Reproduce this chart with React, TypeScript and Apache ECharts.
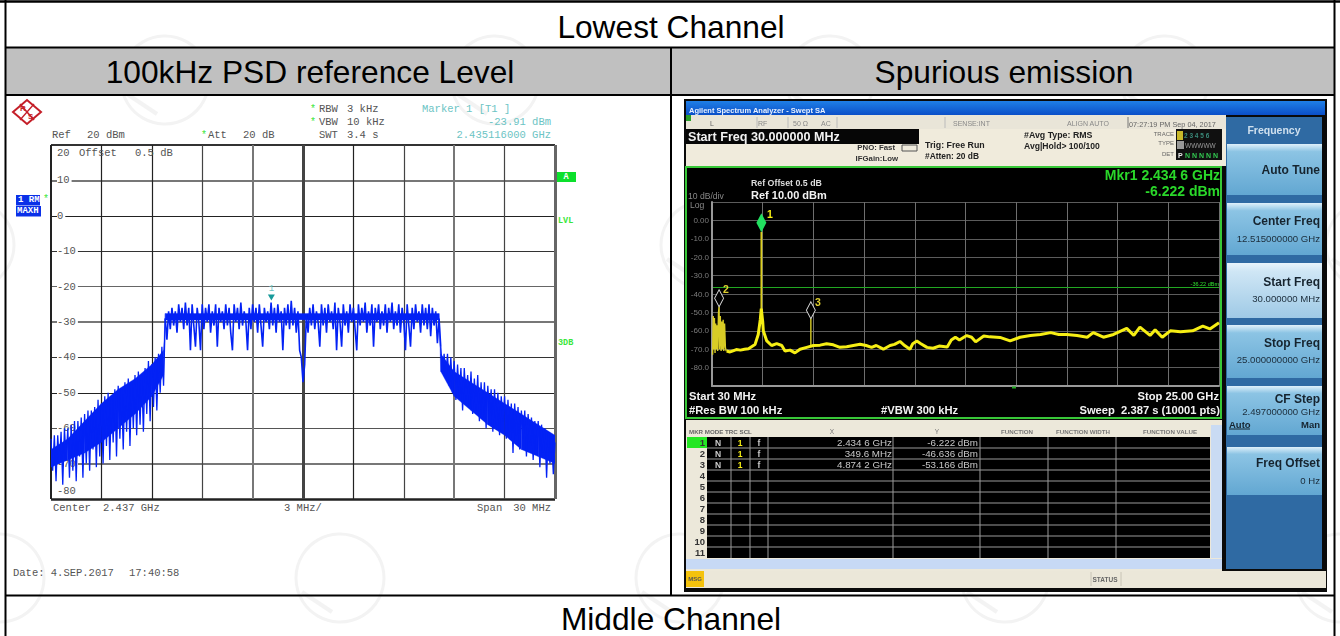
import React, { useEffect, useRef } from "react";
import * as echarts from "echarts";

// ---------- Left plot (R&S analyser) ----------
const psdCenterOffsetStart = -15;
const psdStepMHz = 0.1;
const psdLeftSkirt = [
  -63,-72,-62,-75,-62,-70,-61,-76,-60,-69,-60,-74,-59,-72,-58,-75,-58,-68,-57,-74,-56,-70,-55,-72,-55,-66,-54,-71,-52,-68,-53,-70,
  -51,-65,-50,-69,-51,-64,-49,-68,-48,-63,-49,-66,-47,-61,-46,-65,-47,-60,-45,-62,-44,-59,-45,-61,-43,-56,-41,-58,-42,-54,-40,-55,-39,-50,-37,-48,
];
const psdPlateauLeft = [
  -29,-35,-27,-32,-26,-31,-27,-33,-25,-30,-26,-32,-24.5,-31,-26,-38,-25,-31,-37,-26,-30,-38,-25,-32,-26,-30,-25,-33,-27,-31,-25,-37,
  -26,-30,-27,-32,-25,-31,-26,-33,-38,-25,-30,-26,-32,-24.5,-31,-27,-30,-38,-26,-32,-25,-30,-26,-33,-25,-31,-37,-26,-30,-27,-32,-24.5,
  -31,-26,-33,-25,-30,-27,-38,-26,-31,-25,-32,-24,-31,-26,-33,-27,-38,-40,
];
const psdNotch = [-47, -42];
const psdPlateauRight = [
  -28,-33,-26,-31,-25,-32,-27,-30,-37,-25,-31,-26,-33,-25,-30,-27,-32,-24.5,-38,-26,-30,-37,-25,-31,-27,-33,-25,-30,-26,-32,-38,-25,
  -31,-26,-30,-24.5,-33,-27,-31,-25,-37,-26,-30,-25,-32,-27,-31,-25,-33,-26,-30,-24.5,-32,-27,-31,-25,-33,-26,-30,-38,-25,-31,-37,-26,
  -32,-25,-30,-27,-33,-25,-31,-26,-32,-25,-34,-26,-31,-27,-36,-29,
];
const psdRightSkirt = [
  -37,-44,-39,-46,-39,-48,-40,-50,-41,-52,-42,-51,-43,-55,-43,-52,-45,-54,-44,-56,-46,-55,-45,-58,-47,-57,-47,-60,-48,-56,-49,-61,
  -49,-59,-50,-62,-51,-58,-51,-63,-52,-61,-53,-67,-53,-62,-54,-66,-55,-63,-55,-68,-56,-64,-57,-69,-58,-66,-58,-71,-59,-67,-60,-74,-61,-70,-63,-73,-64,
];
// solid core of the trace band, read at whole-MHz stations: offset, upper dB, lower dB
const coreOffset = [-15,-14,-13,-12,-11,-10,-9,-8.3,-8.2,-0.3,0.3,8.1,8.2,9,10,11,12,13,14,15];
const coreUpper = [-66,-63,-58,-53,-49,-46,-42,-38,-27.6,-27.6,-27.6,-27.6,-39,-44,-47,-50,-53,-56,-59,-62];
const coreLower = [-71,-69,-67,-64,-60,-56,-51,-45,-29.4,-29.4,-29.4,-29.4,-44,-51,-55,-59,-62,-66,-68,-70];
const psdYLabels: Record<string, string> = {
  "10": "10", "0": "0", "-10": "-10", "-20": "-20", "-30": "-30", "-40": "-40", "-50": "-50", "-60": "-60", "-70": "-70",
};
const psdHLines: [number, string, number][] = [
  [20, "#333", 2], [10, "#777", 2], [0, "#222", 1.2], [-10, "#333", 1], [-20, "#666", 1], [-30, "#777", 2],
  [-40, "#333", 1.2], [-50, "#222", 1.2], [-60, "#555", 1], [-70, "#777", 2], [-80, "#222", 2.5],
];
const psdVLines: [number, string, number][] = [
  [-15, "#222", 2], [-12, "#222", 1.2], [-9, "#222", 1.2], [-6, "#444", 1.2], [-3, "#777", 2], [0, "#444", 3],
  [3, "#222", 1.2], [6, "#444", 1.2], [9, "#777", 2], [12, "#444", 1.2], [15, "#666", 3],
];

// ---------- Right plot (Agilent analyser) ----------
const floorFreq = [
  0.72,0.89,1.0,1.2,1.4,1.6,1.8,2.12,2.28,2.38,2.43,2.5,2.53,2.7,2.94,3.19,3.44,3.6,3.85,4.09,4.34,4.67,5.0,5.33,5.65,5.98,6.31,6.64,6.97,7.3,7.6,7.87,8.1,8.45,8.78,9.0,9.27,9.5,9.76,9.9,10.1,10.3,10.6,10.9,11.2,11.6,11.8,12.0,12.2,12.56,12.8,13.0,13.4,13.7,14.2,14.7,15.19,15.7,16.2,16.7,17.1,17.5,18.0,18.5,18.8,19.3,19.8,20.45,20.8,21.1,21.6,21.85,22.2,22.6,23.1,23.7,24.2,24.55,25,
];
const floorDb = [
  -71,-71.5,-71,-70.2,-70.5,-70,-69.7,-67.5,-62,-54,-48,-55,-60,-65.5,-68,-67,-68,-71,-70.5,-72,-70,-69,-68,-67.8,-67,-67.6,-69,-68.7,-68,-67.3,-68,-69,-68,-70,-68,-67.4,-65.8,-68,-70,-67,-65.6,-67,-69,-69.5,-68.3,-68.8,-65,-63.5,-65,-62.6,-63.5,-66,-62.8,-63.3,-63.6,-65.5,-63.5,-62.5,-62,-61,-62,-62,-62.5,-63.5,-61,-63.5,-62,-58.7,-62.5,-58,-62.5,-59.5,-63.5,-60,-60.5,-60,-57.5,-59,-55.6,
];
const burstFreq = [0.03,0.06,0.09,0.12,0.15,0.18,0.21,0.25,0.28,0.32,0.35,0.37,0.41,0.45,0.48,0.52,0.55,0.58,0.62,0.66,0.7];
const burstDb = [-73,-52,-70,-53,-72,-56,-70,-57,-71,-50,-46.636,-70,-52,-71,-55,-70,-54,-71,-56,-69,-71];
const peakFreq = [2.4346, 2.4346];
const peakDb = [-50, -6.222];
const spur3Freq = [4.8742, 4.8742];
const spur3Db = [-68, -53.166];
const displayLine = -36.22;
const rightYLabels: Record<string, string> = {
  "0": "0.00", "-10": "-10.0", "-20": "-20.0", "-30": "-30.0", "-40": "-40.0", "-50": "-50.0", "-60": "-60.0", "-70": "-70.0", "-80": "-80.0",
};
const markerTable: [string, string, string][] = [
  ["1", "2.434 6 GHz", "-6.222 dBm"],
  ["2", "349.6 MHz", "-46.636 dBm"],
  ["3", "4.874 2 GHz", "-53.166 dBm"],
  ["4", "", ""], ["5", "", ""], ["6", "", ""], ["7", "", ""], ["8", "", ""], ["9", "", ""], ["10", "", ""], ["11", "", ""],
];
const softkeys: [string, string][] = [
  ["Auto Tune", ""],
  ["Center Freq", "12.515000000 GHz"],
  ["Start Freq", "30.000000 MHz"],
  ["Stop Freq", "25.000000000 GHz"],
  ["CF Step", "2.497000000 GHz"],
  ["Freq Offset", "0 Hz"],
];

const SANS = '"Liberation Sans"';
const MONO = '"Liberation Mono"';

function txt(text: string, x: number, y: number, size: number, fill: string, opt: any = {}) {
  const weight = opt.bold ? "bold " : "";
  return {
    type: "text", x, y, z: opt.z ?? 6, silent: true,
    style: {
      text, fill, font: `${weight}${size}px ${opt.family ?? SANS}`,
      align: opt.align ?? "left", verticalAlign: "middle",
      ...(opt.bg ? { backgroundColor: opt.bg } : {}),
    },
  };
}
function rect(x: number, y: number, w: number, h: number, fill: any, z = 0, extra: any = {}) {
  return { type: "rect", z, silent: true, shape: { x, y, width: w, height: h }, style: { fill, ...extra } };
}
function seg(x1: number, y1: number, x2: number, y2: number, stroke: string, lineWidth: number, z = 1) {
  return { type: "line", z, silent: true, shape: { x1, y1, x2, y2 }, style: { stroke, lineWidth } };
}
function grad(a: string, b: string, c?: string) {
  const stops = c
    ? [{ offset: 0, color: a }, { offset: 0.15, color: b }, { offset: 1, color: c }]
    : [{ offset: 0, color: a }, { offset: 1, color: b }];
  return new echarts.graphic.LinearGradient(0, 0, 0, 1, stops);
}

function watermark(cx: number, cy: number) {
  const c = "#f3f3f3";
  return [
    { type: "circle", z: 0, silent: true, shape: { cx, cy, r: 44 }, style: { fill: "none", stroke: c, lineWidth: 3 } },
    seg(cx - 38, cy + 14, cx - 8, cy + 34, c, 4, 0),
  ];
}

function leftOption() {
  const values = [...psdLeftSkirt, ...psdPlateauLeft, ...psdNotch, ...psdPlateauRight, ...psdRightSkirt];
  const trace = values.map((v, i) => [psdCenterOffsetStart + i * psdStepMHz, v]);
  const nL = psdLeftSkirt.length;
  const nM = psdPlateauLeft.length + psdNotch.length + psdPlateauRight.length;
  const traceLeft = trace.slice(0, nL + 1);
  const tracePlateau = trace.slice(nL, nL + nM + 1);
  const traceRight = trace.slice(nL + nM);
  const coreData = coreOffset.slice(0, -1).map((x, i) => [x, coreUpper[i], coreLower[i], coreOffset[i + 1], coreUpper[i + 1], coreLower[i + 1]]);
  const gray = "#555";
  const cyan = "#6cc4c4";
  const green = "#3ae63a";
  const wmPts = [
    [165, 80], [495, 80], [830, 80], [1165, 80],
    [-30, 245], [705, 245], [1370, 245],
    [0, 578], [340, 578], [680, 578], [1005, 578], [1340, 578],
  ];
  const graphic: any[] = [
    ...wmPts.flatMap(([a, b]) => watermark(a, b)),
    rect(6, 48, 1328, 47, "#c0c0c0", 0),
    seg(0, 1.5, 1340, 1.5, "#000", 2.4, 1),
    seg(5.5, 0, 5.5, 636, "#000", 2, 1),
    seg(1334.5, 0, 1334.5, 636, "#000", 2, 1),
    seg(5, 47.5, 1335, 47.5, "#000", 2.2, 1),
    seg(5, 95, 1335, 95, "#000", 2.2, 1),
    seg(5, 595.5, 1335, 595.5, "#000", 2.2, 1),
    seg(671, 48, 671, 595, "#000", 2, 1),
    txt("Lowest Channel", 671, 27, 31.7, "#000", { align: "center" }),
    txt("100kHz PSD reference Level", 310, 72, 31.7, "#000", { align: "center" }),
    txt("Spurious emission", 1004, 72, 31.7, "#000", { align: "center" }),
    txt("Middle Channel", 671, 619, 31.7, "#000", { align: "center" }),
    // R&S logo
    { type: "polygon", z: 2, silent: true, shape: { points: [[13, 112], [27, 100], [41, 112], [27, 124]] }, style: { fill: "#fff", stroke: "#c41e28", lineWidth: 2 } },
    seg(20, 104, 34, 120, "#c41e28", 1.6, 3),
    seg(34, 104, 20, 120, "#c41e28", 1.4, 3),
    txt("R", 20, 108, 8, "#c41e28", { bold: true }),
    txt("S", 28, 116, 8, "#c41e28", { bold: true }),
    // header lines
    txt("Ref", 52, 135, 10.5, gray, { family: MONO }),
    txt("20 dBm", 87, 135, 10.5, gray, { family: MONO }),
    txt("*", 201, 135, 10, green, { family: MONO }),
    txt("Att", 208, 135, 10.5, gray, { family: MONO }),
    txt("20 dB", 243, 135, 10.5, gray, { family: MONO }),
    txt("*", 310, 109, 10, green, { family: MONO }),
    txt("RBW", 319, 109, 10.5, gray, { family: MONO }),
    txt("3 kHz", 347, 109, 10.5, gray, { family: MONO }),
    txt("*", 310, 122, 10, green, { family: MONO }),
    txt("VBW", 319, 122, 10.5, gray, { family: MONO }),
    txt("10 kHz", 347, 122, 10.5, gray, { family: MONO }),
    txt("SWT", 319, 135, 10.5, gray, { family: MONO }),
    txt("3.4 s", 347, 135, 10.5, gray, { family: MONO }),
    txt("Marker 1 [T1 ]", 422, 109, 10.5, cyan, { family: MONO }),
    txt("-23.91 dBm", 551, 122, 10.5, cyan, { family: MONO, align: "right" }),
    txt("2.435116000 GHz", 551, 135, 10.5, cyan, { family: MONO, align: "right" }),
    txt("20", 57, 153, 10.5, gray, { family: MONO }),
    txt("Offset", 79, 153, 10.5, gray, { family: MONO }),
    txt("0.5 dB", 135, 153, 10.5, gray, { family: MONO }),
    txt("-80", 57, 490.5, 10.5, gray, { family: MONO }),
    txt("Center", 53, 508, 10.5, gray, { family: MONO }),
    txt("2.437 GHz", 103, 508, 10.5, gray, { family: MONO }),
    txt("3 MHz/", 284, 508, 10.5, gray, { family: MONO }),
    txt("Span", 477, 508, 10.5, gray, { family: MONO }),
    txt("30 MHz", 551, 508, 10.5, gray, { family: MONO, align: "right" }),
    txt("Date: 4.SEP.2017", 13, 573, 10.5, gray, { family: MONO }),
    txt("17:40:58", 129, 573, 10.5, gray, { family: MONO }),
    // side tags
    rect(16, 195, 24, 10.5, "#0a30e8", 2),
    txt("1 RM", 18, 200, 9, "#fff", { family: MONO, bold: true }),
    rect(16, 206, 25, 10.5, "#0a30e8", 2),
    txt("MAXH", 17, 211, 9, "#fff", { family: MONO, bold: true }),
    txt("*", 43, 199, 10, green, { family: MONO }),
    rect(557, 172, 19, 10, "#0ce02c", 2),
    txt("A", 566, 177, 8.5, "#fff", { family: MONO, bold: true, align: "center" }),
    txt("LVL", 558, 221, 8.5, green, { family: MONO, bold: true }),
    txt("3DB", 558, 343, 8.5, green, { family: MONO, bold: true }),
  ];
  const traceLine = (data: number[][], width: number, extra: any = {}) => ({
    type: "line", z: 3, silent: true, showSymbol: false, clip: true,
    lineStyle: { color: "#0322f5", width, join: "miter" }, data, ...extra,
  });
  return {
    animation: false,
    grid: { left: 51, top: 145, width: 504, height: 354, show: false },
    xAxis: {
      type: "value", min: -15, max: 15, interval: 3, z: 2,
      axisLine: { show: false }, axisTick: { show: false }, axisLabel: { show: false }, splitLine: { show: false },
    },
    yAxis: {
      type: "value", min: -80, max: 20, interval: 10, z: 2,
      axisLine: { show: false }, axisTick: { show: false }, splitLine: { show: false },
      axisLabel: {
        inside: true, margin: 6, color: gray, fontFamily: MONO, fontSize: 10.5, backgroundColor: "#fff", padding: [0, 2, 0, 0],
        formatter: (v: number) => psdYLabels[String(v)] ?? "",
      },
    },
    graphic: { elements: graphic },
    series: [
      {
        type: "line", z: 1, silent: true, showSymbol: false, lineStyle: { width: 0 },
        data: [[-15, -80], [15, -80]],
        markLine: {
          z: 1, silent: true, symbol: "none", label: { show: false }, animation: false,
          data: [
            ...psdHLines.map(([v, color, width]) => ({ yAxis: v, lineStyle: { color, width, type: "solid" } })),
            ...psdVLines.map(([v, color, width]) => ({ xAxis: v, lineStyle: { color, width, type: "solid" } })),
          ],
        },
      },
      {
        type: "custom", z: 3, silent: true, clip: true,
        data: coreData,
        encode: { x: [0, 3], y: [1, 2, 4, 5] },
        renderItem: (_p: any, api: any) => {
          const a = api.coord([api.value(0), api.value(1)]);
          const b = api.coord([api.value(3), api.value(4)]);
          const c = api.coord([api.value(3), api.value(5)]);
          const d = api.coord([api.value(0), api.value(2)]);
          return { type: "polygon", shape: { points: [a, b, c, d] }, style: { fill: "#0322f5", stroke: "#0322f5", lineWidth: 0.3 } };
        },
      },
      traceLine(traceLeft, 1.3),
      traceLine(traceRight, 1.3),
      traceLine(tracePlateau, 1.6, {
        markPoint: {
          silent: true, animation: false,
          data: [{
            coord: [-1.884, -23.91], symbol: "triangle", symbolRotate: 180, symbolSize: [7, 6], symbolOffset: [0, -3],
            itemStyle: { color: "#179a9a" },
            label: { show: true, formatter: "1", position: "top", distance: 1, color: cyan, fontFamily: MONO, fontSize: 9 },
          }],
        },
      }),
    ],
  };
}

function rightOption() {
  const y0 = 96, x0 = 680;
  const yellow = "#f6ee14";
  const green = "#2fe02f";
  const wh = "#f2f2f2";
  const els: any[] = [
    rect(684, 99, 643, 493, "#0a0a0a", 0),
    rect(686, 101, 639, 14, grad("#1f7fe6", "#0b4fc8"), 0),
    txt("Agilent Spectrum Analyzer - Swept SA", 689, 110, 7.5, "#e8f0ff", { bold: true }),
    rect(686, 115, 540, 14, "#e9e5d8", 0),
    rect(686, 115, 5, 6, "#2aa02a", 1),
    txt("L", 710, 123, 7, "#666"),
    txt("RF", 758, 123, 7, "#888"),
    txt("50 Ω", 793, 123, 7, "#888"),
    txt("AC", 821, 123, 7, "#888"),
    txt("SENSE:INT", 953, 123, 7, "#888"),
    txt("ALIGN AUTO", 1067, 123, 7, "#888"),
    txt("07:27:19 PM Sep 04, 2017", 1129, 124, 7.3, "#666"),
    seg(757, 117, 757, 128, "#bbb", 1),
    seg(788, 117, 788, 128, "#bbb", 1),
    seg(837, 117, 837, 128, "#bbb", 1),
    seg(945, 117, 945, 128, "#bbb", 1),
    seg(1128, 117, 1128, 128, "#777", 1),
    rect(686, 129, 540, 37, "#f0ebdc", 0),
    rect(686, 129, 233, 15, "#060606", 1),
    txt("Start Freq 30.000000 MHz", 688, 137, 12.6, wh, { bold: true }),
    txt("PNO: Fast", 895, 147, 7.8, "#333", { bold: true, align: "right" }),
    txt("IFGain:Low", 898, 158, 7.8, "#333", { bold: true, align: "right" }),
    txt("Trig: Free Run", 925, 145, 8.8, "#222", { bold: true }),
    txt("#Atten: 20 dB", 925, 156, 8.4, "#222", { bold: true }),
    rect(902, 145, 15, 6, "#f0ebdc", 1, { stroke: "#555", lineWidth: 1 }),
    txt("#Avg Type: RMS", 1024, 135, 8.8, "#222", { bold: true }),
    txt("Avg|Hold> 100/100", 1024, 145.5, 8.6, "#222", { bold: true }),
    txt("TRACE", 1174, 134, 6, "#666", { align: "right" }),
    txt("TYPE", 1174, 143, 6, "#666", { align: "right" }),
    txt("DET", 1174, 154, 6, "#666", { align: "right" }),
    rect(1176, 129, 46, 31, "#101010", 1),
    rect(1177, 131, 6, 9, "#c8b82a", 2),
    txt("2 3 4 5 6", 1184, 135, 6.5, "#3a8a7a", { bold: true }),
    rect(1177, 141, 7, 8, "#999", 2),
    txt("WWWWW", 1185, 145, 6.5, "#999"),
    txt("P", 1178, 155, 7, "#eee", { bold: true }),
    txt("N N N N N", 1185, 155, 7, "#32c850", { bold: true }),
    // screen frame
    rect(686, 167, 535, 251, "#000", 0, { stroke: "#38c838", lineWidth: 2 }),
    txt("Ref Offset 0.5 dB", 751, 183, 8.8, "#ddd", { bold: true }),
    txt("Ref 10.00 dBm", 751, 195, 11, wh, { bold: true }),
    txt("10 dB/div", 688, 196, 8.6, "#888"),
    txt("Log", 690, 205, 8.6, "#888"),
    txt("Mkr1 2.434 6 GHz", 1220, 175, 14, "#2ad82a", { bold: true, align: "right" }),
    txt("-6.222 dBm", 1220, 191, 14, "#2ad82a", { bold: true, align: "right" }),
    txt("Start 30 MHz", 689, 395.5, 11.2, wh, { bold: true }),
    txt("#Res BW 100 kHz", 689, 409.5, 11.2, wh, { bold: true }),
    txt("#VBW 300 kHz", 881, 409.5, 11.2, wh, { bold: true }),
    txt("Stop 25.00 GHz", 1219, 395.5, 11.2, wh, { bold: true, align: "right" }),
    txt("Sweep  2.387 s (10001 pts)", 1220, 409.5, 11.2, wh, { bold: true, align: "right" }),
    rect(1012, 386.5, 4, 2, "#1faa1f", 2),
    txt("1", 767, 214, 10.5, yellow, { bold: true }),
    txt("2", 723, 289, 10.5, "#e0d030", { bold: true }),
    txt("3", 815, 302, 10.5, "#e0d030", { bold: true }),
    // marker table
    rect(686, 420, 536, 151, "#ece8da", 0),
    txt("MKR MODE TRC SCL", 689, 431, 6.2, "#666", { bold: true }),
    txt("X", 832, 431, 6.5, "#777", { align: "center" }),
    txt("Y", 937, 431, 6.5, "#777", { align: "center" }),
    txt("FUNCTION", 1017, 431, 6.2, "#777", { align: "center", bold: true }),
    txt("FUNCTION WIDTH", 1083, 431, 6.2, "#777", { align: "center", bold: true }),
    txt("FUNCTION VALUE", 1170, 431, 6.2, "#777", { align: "center", bold: true }),
    rect(707, 437, 503, 121, "#000", 1),
    rect(687, 437, 20, 11, "#23e623", 2),
    rect(1211, 425, 11, 133, "#c9dbf3", 1),
    rect(686, 559, 536, 10, "#c7d9f5", 1),
    rect(686, 571, 640, 17, "#ebe7d9", 0),
    rect(686, 571, 18, 16, "#f4c20c", 1),
    txt("MSG", 695, 579, 6, "#555", { align: "center", bold: true }),
    txt("STATUS", 1105, 579, 6.5, "#666", { align: "center", bold: true }),
    seg(1091, 572, 1091, 586, "#c8c4b6", 1),
    seg(1121, 572, 1121, 586, "#c8c4b6", 1),
    // softkey column
    rect(1226, 117, 96, 452, "#2f6aa3", 0),
    txt("Frequency", 1274, 130, 10.5, "#cfe0ee", { bold: true, align: "center" }),
  ];
  [731, 750, 768, 893, 980, 1048, 1116].forEach((x) => els.push(seg(x, 437, x, 558, "#9a9a9a", 1, 2)));
  markerTable.forEach((row, i) => {
    const y = 437 + i * 11;
    if (i > 0) els.push(seg(707, y, 1210, y, "#9a9a9a", 1, 2));
    const cy = y + 5.6;
    els.push(txt(row[0], 705, cy, 9.5, "#333", { bold: true, align: "right" }));
    if (row[1]) {
      els.push(txt("N", 718, cy, 8.5, "#ccc", { bold: true, align: "center" }));
      els.push(txt("1", 740, cy, 8.5, yellow, { bold: true, align: "center" }));
      els.push(txt("f", 759, cy, 8.5, "#ccc", { bold: true, align: "center" }));
      els.push(txt(row[1], 892, cy, 9.8, "#c8c8c8", { align: "right" }));
      els.push(txt(row[2], 978, cy, 9.8, "#c8c8c8", { align: "right" }));
    }
  });
  const keyBoxes: [number, number][] = [[144, 195], [203, 255], [263, 318], [325, 378], [386, 435], [447, 495]];
  const keyTitleY = [170, 221, 282, 343, 399, 463];
  const keySubY = [0, 238, 298, 359, 411, 480];
  softkeys.forEach((k, i) => {
    const [a, b] = keyBoxes[i];
    const fill = i === 2 ? grad("#e8f4fb", "#cfe6f5", "#9fcae6") : grad("#dff0fa", "#8cc4e4", "#62a7d2");
    els.push(rect(1227, a, 95, b - a, fill, 1));
    els.push(txt(k[0], 1320, keyTitleY[i], 12, "#16242f", { bold: true, align: "right" }));
    if (k[1]) els.push(txt(k[1], 1320, keySubY[i], i === 0 ? 9 : 9.6, "#1b2c3a", { align: "right" }));
  });
  els.push(txt("Auto", 1229, 424, 9.5, "#16242f", { bold: true }));
  els.push(seg(1229, 429, 1250, 429, "#16242f", 1, 2));
  els.push(txt("Man", 1320, 424, 9.5, "#16242f", { bold: true, align: "right" }));

  const zip = (xs: number[], ys: number[]) => xs.map((x, i) => [x, ys[i]]);
  const thin = { color: "#d8cc26", width: 1.4 };
  return {
    animation: false,
    grid: { left: 712 - x0, top: 202 - y0, width: 507, height: 184, show: false },
    xAxis: {
      type: "value", min: 0, max: 25, interval: 2.5, z: 1,
      axisLine: { show: true, onZero: false, lineStyle: { color: "#999", width: 2 } }, axisTick: { show: false }, axisLabel: { show: false },
      splitLine: { show: true, lineStyle: { color: "#6e6e6e", width: 1 } },
    },
    yAxis: {
      type: "value", min: -90, max: 10, interval: 10, z: 1,
      axisLine: { show: true, onZero: false, lineStyle: { color: "#999", width: 2 } }, axisTick: { show: false },
      axisLabel: { color: "#7c7c7c", fontSize: 8, fontFamily: SANS, margin: 3, formatter: (v: number) => rightYLabels[String(v)] ?? "" },
      splitLine: { show: true, lineStyle: { color: "#5c5c5c", width: 1 } },
    },
    graphic: { elements: [{ type: "group", x: -x0, y: -y0, z: 0, children: els }] },
    series: [
      {
        type: "line", z: 2, silent: true, showSymbol: false, lineStyle: { color: "#dccf1e", width: 1.8 }, data: zip(peakFreq, peakDb),
        markPoint: {
          silent: true, animation: false,
          data: [{ coord: [2.4346, -6.222], symbol: "diamond", symbolSize: [10, 19], symbolOffset: [0, -9], itemStyle: { color: "#22e060" }, label: { show: false } }],
        },
      },
      {
        type: "line", z: 2, silent: true, showSymbol: false, lineStyle: thin, data: zip(spur3Freq, spur3Db),
        markPoint: {
          silent: true, animation: false,
          data: [{ coord: [4.8742, -53.166], symbol: "diamond", symbolSize: [9, 17], symbolOffset: [0, -8], itemStyle: { color: "#000", borderColor: "#d8d8d8", borderWidth: 1 }, label: { show: false } }],
        },
      },
      {
        type: "line", z: 2, silent: true, showSymbol: false, lineStyle: thin, data: zip(burstFreq, burstDb),
        markPoint: {
          silent: true, animation: false,
          data: [{ coord: [0.35, -46.636], symbol: "diamond", symbolSize: [9, 17], symbolOffset: [0, -8], itemStyle: { color: "#000", borderColor: "#d8d8d8", borderWidth: 1 }, label: { show: false } }],
        },
      },
      {
        type: "line", z: 3, silent: true, showSymbol: false, lineStyle: { color: yellow, width: 3 }, data: zip(floorFreq, floorDb),
        markLine: {
          z: 1, silent: true, symbol: "none", animation: false,
          data: [{ yAxis: displayLine, lineStyle: { color: "#22a822", width: 1, type: "solid" } }],
          label: { show: true, position: "insideEndTop", formatter: "-36.22 dBm", color: green, fontSize: 5.5, fontFamily: SANS, distance: 0 },
        },
      },
    ],
  };
}

export default function App() {
  const baseRef = useRef<HTMLDivElement>(null);
  const shotRef = useRef<HTMLDivElement>(null);
  useEffect(() => {
    document.body.style.margin = "0";
    const base = echarts.init(baseRef.current!, undefined, { renderer: "svg" });
    const shot = echarts.init(shotRef.current!, undefined, { renderer: "svg" });
    base.setOption(leftOption() as any);
    shot.setOption(rightOption() as any);
    return () => {
      base.dispose();
      shot.dispose();
    };
  }, []);
  return (
    <div style={{ position: "absolute", left: 0, top: 0, width: 1340, height: 636, background: "#fff", overflow: "hidden" }}>
      <div ref={baseRef} style={{ position: "absolute", left: 0, top: 0, width: 1340, height: 636 }} />
      <div ref={shotRef} style={{ position: "absolute", left: 680, top: 96, width: 650, height: 498, filter: "blur(0.7px)" }} />
    </div>
  );
}
